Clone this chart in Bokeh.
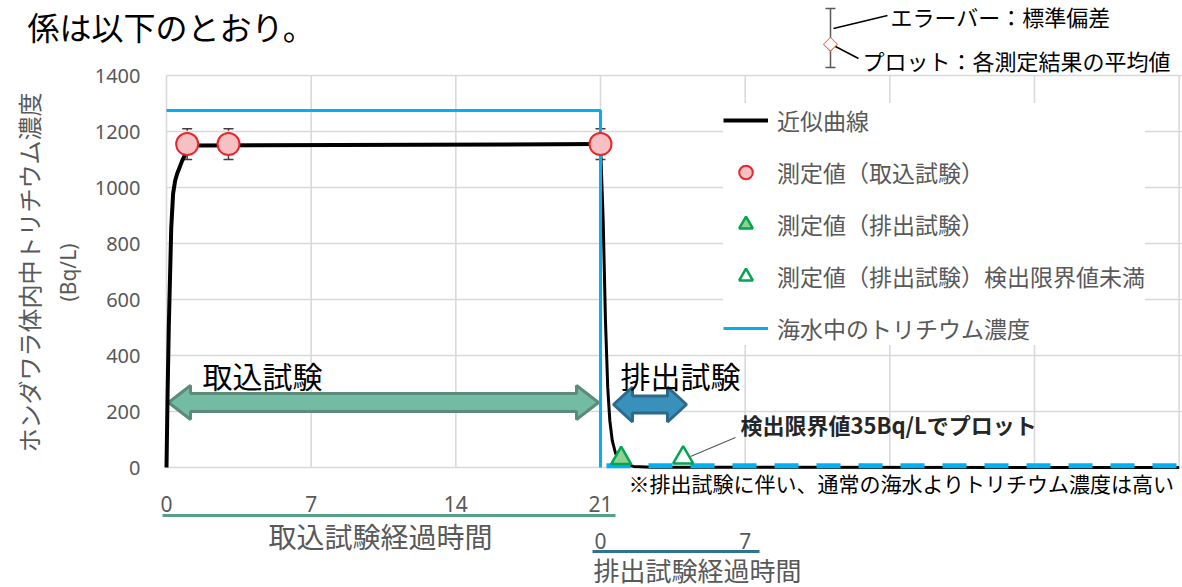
import math
from bokeh.plotting import figure
from bokeh.models import (Range1d, Label, Arrow, TeeHead,
                          Whisker, ColumnDataSource, Legend, LegendItem)
from bokeh.core.properties import value
from bokeh.embed import file_html
from bokeh.resources import INLINE

# ---------------- data ----------------
uptake_days = [1, 3, 21]
uptake_mean = [1155, 1155, 1155]
uptake_sd = [55, 55, 55]

discharge_days = [1]            # days since start of discharge test
discharge_val = [33]
discharge_nd_days = [4]         # below detection limit, plotted at 35 Bq/L
discharge_nd_val = [35]

fit_up_t = [0, 0.02, 0.05, 0.11, 0.23, 0.32, 0.42, 0.52, 0.76, 1.0, 1.5, 21]
fit_up_c = [0, 100, 250, 500, 857, 978, 1025, 1050, 1096, 1132, 1150, 1155]
fit_dis_t = [0, 0.13, 0.24, 0.35, 0.45, 0.57, 0.73, 1.05, 1.6, 2.5, 28]
fit_dis_c = [1155, 882, 525, 286, 168, 96, 50, 14, 4, 1, 0]

sea_up_t = [0, 21, 21]
sea_up_c = [1275, 1275, 0]
sea_dis_t = [0, 28]
sea_dis_c = [6, 6]

UPTAKE_END = 21
x_ticks_uptake = [0, 7, 14, 21]
x_ticks_discharge = [0, 7]
y_ticks = [0, 200, 400, 600, 800, 1000, 1200, 1400]
grid_x = [0, 7, 14, 21, 28, 35, 42, 49]

# ---------------- layout ----------------
JP = "Noto Sans CJK JP"
W, H = 1182, 587
SX = 434 / 21          # px per day
SY = 392 / 1400        # px per Bq/L
X0_PAGE, Y0_PAGE = 166, 467    # canvas position of (0, 0)


def X(px):
    return (px - X0_PAGE) / SX


def Y(py):
    return (Y0_PAGE - py) / SY


X_END = X(W)
p = figure(width=W, height=H,
           x_range=Range1d(X(0), X_END), y_range=Range1d(Y(H), Y(0)),
           output_backend="svg", toolbar_location=None,
           x_axis_location=None, y_axis_location=None,
           min_border_left=0, min_border_right=0, min_border_top=0, min_border_bottom=0)
p.outline_line_color = None
p.grid.visible = False
p.background_fill_color = "white"

GRID = "#d9d9d9"
gx = [g for g in grid_x if g <= X_END]
p.segment(x0=gx, y0=[y_ticks[0]] * len(gx), x1=gx, y1=[y_ticks[-1]] * len(gx),
          line_color=GRID, line_width=1.6)
p.segment(x0=[0] * len(y_ticks), y0=y_ticks, x1=[X_END] * len(y_ticks), y1=y_ticks,
          line_color=GRID, line_width=1.6)

# tick labels
TICK = "#595959"
p.text(x=[X(140)] * len(y_ticks), y=y_ticks, text=[str(v) for v in y_ticks],
       text_font=value("Noto Sans"), text_font_size="20px", text_color=TICK,
       text_align="right", text_baseline="middle")
p.text(x=x_ticks_uptake, y=[Y(503)] * len(x_ticks_uptake), text=[str(v) for v in x_ticks_uptake],
       text_font=value("Noto Sans"), text_font_size="21px", text_color=TICK,
       text_align="center", text_baseline="middle")
p.text(x=[UPTAKE_END + d for d in x_ticks_discharge], y=[Y(540)] * len(x_ticks_discharge),
       text=[str(v) for v in x_ticks_discharge],
       text_font=value("Noto Sans"), text_font_size="21px", text_color=TICK,
       text_align="center", text_baseline="middle")


# ---------------- block arrows (annotation shapes) ----------------
def block_arrow(x0, x1, yc, shaft, head_h, head_l):
    pts = [(x0, yc), (x0 + head_l, yc - head_h), (x0 + head_l, yc - shaft),
           (x1 - head_l, yc - shaft), (x1 - head_l, yc - head_h), (x1, yc),
           (x1 - head_l, yc + head_h), (x1 - head_l, yc + shaft),
           (x0 + head_l, yc + shaft), (x0 + head_l, yc + head_h)]
    return [X(a) for a, _ in pts], [Y(b) for _, b in pts]


ax_, ay_ = block_arrow(168, 598, 402, 9, 17, 22)
p.patch(ax_, ay_, fill_color="#74bba3", line_color="#5b8c79", line_width=3)
bx_, by_ = block_arrow(613, 686, 404, 8.5, 17.5, 19)
p.patch(bx_, by_, fill_color="#3990ba", line_color="#2c6a8b", line_width=3)

# ---------------- series ----------------
r_fit = p.line(fit_up_t, fit_up_c, line_color="black", line_width=4)
p.line([UPTAKE_END + t for t in fit_dis_t], fit_dis_c, line_color="black", line_width=3)

r_sea = p.line(sea_up_t, sea_up_c, line_color="#00b0f0", line_width=3)
p.line([UPTAKE_END + t for t in sea_dis_t], sea_dis_c, line_color="#00b0f0",
       line_width=5, line_dash="24 18", line_dash_offset=36)

err_src = ColumnDataSource(dict(
    x=uptake_days,
    upper=[m + s for m, s in zip(uptake_mean, uptake_sd)],
    lower=[m - s for m, s in zip(uptake_mean, uptake_sd)]))
wh = Whisker(base="x", upper="upper", lower="lower", source=err_src,
             line_color="#404040", line_width=1.5, level="underlay",
             upper_head=TeeHead(size=10, line_color="#404040", line_width=1.5),
             lower_head=TeeHead(size=10, line_color="#404040", line_width=1.5))
p.add_layout(wh)

r_up = p.scatter(uptake_days, uptake_mean, marker="circle", size=22,
                 fill_color="#f7c0c2", line_color="#e8262d", line_width=2)
r_dis = p.scatter([UPTAKE_END + t for t in discharge_days], discharge_val, marker="triangle",
                  size=20, fill_color="#93cf8e", line_color="#00a650", line_width=2.5)
r_nd = p.scatter([UPTAKE_END + t for t in discharge_nd_days], discharge_nd_val, marker="triangle",
                 size=20, fill_color="white", line_color="#00a650", line_width=2.5)

# leader line for detection-limit note
p.add_layout(Arrow(end=None, x_start=X(735), y_start=Y(437), x_end=X(690), y_end=Y(456),
                   line_color="#595959", line_width=1.2))

# ---------------- legend ----------------
legend = Legend(items=[
    LegendItem(label="近似曲線", renderers=[r_fit]),
    LegendItem(label="測定値（取込試験）", renderers=[r_up]),
    LegendItem(label="測定値（排出試験）", renderers=[r_dis]),
    LegendItem(label="測定値（排出試験）検出限界値未満", renderers=[r_nd]),
    LegendItem(label="海水中のトリチウム濃度", renderers=[r_sea]),
], location=(723, 242), margin=0, padding=12, spacing=18,
    glyph_width=45, glyph_height=34, label_standoff=9,
    label_text_font=JP, label_text_font_size="23px", label_text_color="#595959",
    border_line_color=None, background_fill_color="white", background_fill_alpha=1.0)
p.add_layout(legend)


# ---------------- texts ----------------
def lab(text, px, py, size, color="black", align="left", angle=0, font=JP, style="normal"):
    p.add_layout(Label(x=X(px), y=Y(py), text=text, text_font=font, text_font_size=size,
                       text_color=color, text_align=align, text_baseline="middle",
                       angle=angle, text_font_style=style))


lab("係は以下のとおり。", 27, 25, "32px")
lab("ホンダワラ体内中トリチウム濃度", 28, 272, "24px", "#595959", "center", math.pi / 2)
lab("(Bq/L)", 67, 272, "21px", "#595959", "center", math.pi / 2, font="Noto Sans")
lab("取込試験", 202, 374, "30px")
lab("排出試験", 620, 374, "30px")
lab("検出限界値35Bq/Lでプロット", 740, 423, "22px", "#262626", style="bold")
lab("※排出試験に伴い、通常の海水よりトリチウム濃度は高い", 628, 482, "21px")
lab("取込試験経過時間", 380, 535, "28px", "#595959", "center")
lab("排出試験経過時間", 593, 569, "26px", "#595959")

# axis underlines
p.add_layout(Arrow(end=None, x_start=X(162), y_start=Y(515), x_end=X(615), y_end=Y(515),
                   line_color="#55a086", line_width=3))
p.add_layout(Arrow(end=None, x_start=X(592), y_start=Y(551), x_end=X(759), y_end=Y(551),
                   line_color="#2f7393", line_width=3))

# error-bar key (top right)
p.add_layout(Arrow(start=TeeHead(size=10, line_color="#595959", line_width=1.5),
                   end=TeeHead(size=10, line_color="#595959", line_width=1.5),
                   x_start=X(830), y_start=Y(67), x_end=X(830), y_end=Y(8),
                   line_color="#595959", line_width=1.5))
lab("◆", 830, 43, "15px", "white", "center")
lab("◇", 830, 43, "15px", "#ff0000", "center")
p.add_layout(Arrow(end=None, x_start=X(833), y_start=Y(28), x_end=X(887), y_end=Y(15),
                   line_color="black", line_width=1.5))
p.add_layout(Arrow(end=None, x_start=X(835), y_start=Y(46), x_end=X(858), y_end=Y(58),
                   line_color="black", line_width=1.5))
lab("エラーバー：標準偏差", 890, 15, "22px")
lab("プロット：各測定結果の平均値", 862, 59, "22px")

open("out.html", "w").write(file_html(p, INLINE))
